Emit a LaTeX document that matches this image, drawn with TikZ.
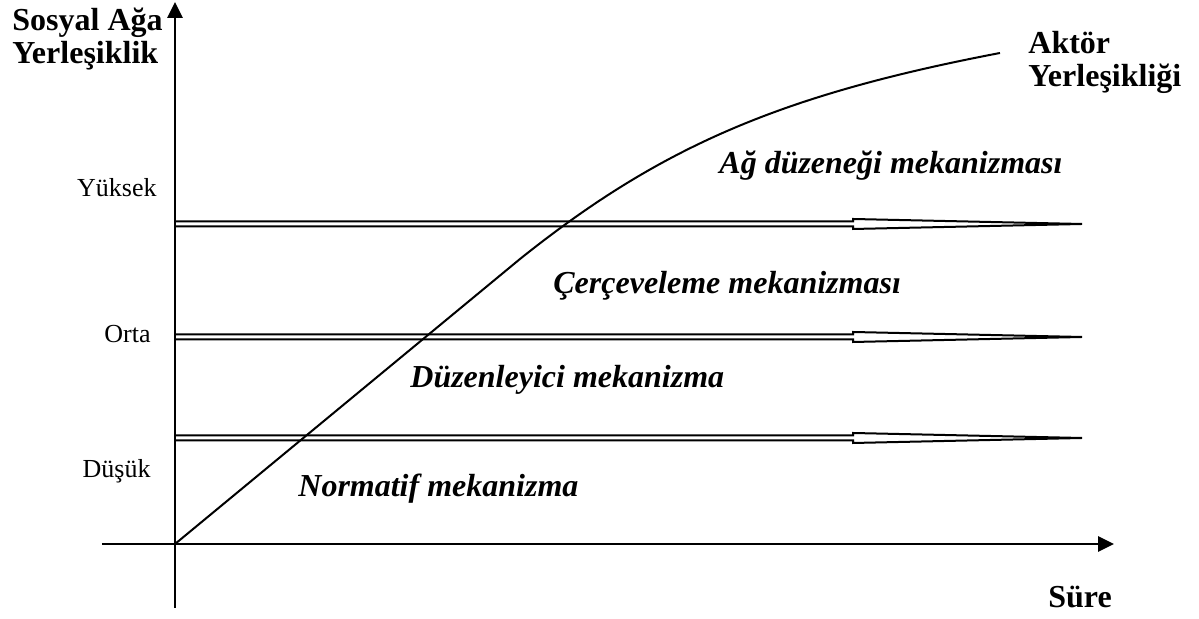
\documentclass[tikz,border=0pt]{standalone}
\usepackage{fontspec}
\setmainfont{Liberation Serif}
\usepackage{tikz}
\usetikzlibrary{arrows.meta}
\tikzstyle{axis} = [line width=1.4pt, -{Triangle[length=8pt,width=7.5pt]}]
\tikzstyle{level} = [line width=1pt, line join=miter]
\tikzstyle{title} = [font=\fontsize{16}{16.5}\selectfont\bfseries, align=left, anchor=base west, inner sep=0pt]
\tikzstyle{tick} = [font=\fontsize{13}{13}\selectfont, anchor=base east, inner sep=0pt]
\tikzstyle{mech} = [font=\fontsize{16}{16}\selectfont\bfseries\itshape, anchor=base west, inner sep=0pt]

\begin{document}
\begin{tikzpicture}[x=0.5pt, y=0.5pt]
    \useasboundingbox (-175,-75) rectangle (1024,544);
    \coordinate (O) at (0,0);
    \coordinate (ybot) at (0,-64);
    \coordinate (ytop) at (0,542);
    \coordinate (xleft) at (-73,0);
    \coordinate (xright) at (939,0);
    \coordinate (bend) at (345,285);
    \coordinate (cend) at (825,491);
    \draw[axis] (ybot) -- (ytop);
    \draw[axis] (xleft) -- (xright);
    \draw[level] (0,322.5) -- (678,322.5) -- (678,325) -- (907,320) -- (678,315) -- (678,317.5) -- (0,317.5);
    \draw[level] (0,209.5) -- (678,209.5) -- (678,212) -- (907,207) -- (678,202) -- (678,204.5) -- (0,204.5);
    \draw[level] (0,108.5) -- (678,108.5) -- (678,111) -- (907,106) -- (678,101) -- (678,103.5) -- (0,103.5);
    \draw[line width=1pt] (O) -- (bend) .. controls (485,397) and (605,449) .. (cend);
    \node (ylabel) [title] at (-163,480) {Sosyal Ağa\\Yerleşiklik};
    \node (actor) [title] at (853,457) {Aktör\\Yerleşikliği};
    \node (time) [title, anchor=base] at (905,-64) {Süre};
    \node (high) [tick] at (-18,347) {Yüksek};
    \node (mid) [tick] at (-24,201) {Orta};
    \node (low) [tick] at (-24,66) {Düşük};
    \node (netmech) [mech] at (544,370) {Ağ düzeneği mekanizması};
    \node (framemech) [mech] at (378,250) {Çerçeveleme mekanizması};
    \node (regmech) [mech] at (235,156) {Düzenleyici mekanizma};
    \node (normmech) [mech] at (123,47) {Normatif mekanizma};
\end{tikzpicture}
\end{document}
